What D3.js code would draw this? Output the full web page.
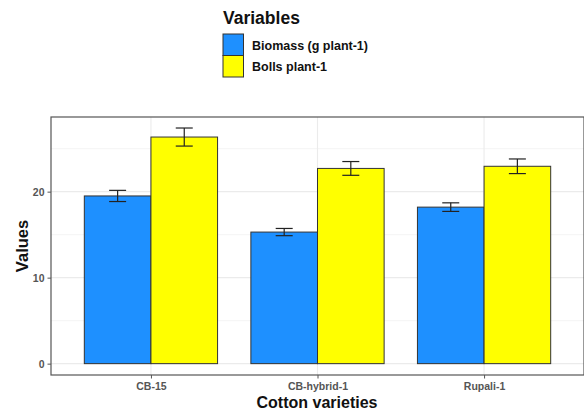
<!DOCTYPE html>
<html>
<head>
<meta charset="utf-8">
<script src="https://cdn.jsdelivr.net/npm/d3@7"></script>
<style>
  body { margin: 0; background: #fff; }
  text { font-family: "Liberation Sans", Arial, sans-serif; }
</style>
</head>
<body>
<svg id="chart"></svg>
<script>
var varieties = ["CB-15", "CB-hybrid-1", "Rupali-1"];
var seriesNames = ["Biomass (g plant-1)", "Bolls plant-1"];
var seriesColors = ["#1E90FF", "#FFFF00"];
var biomass = [19.5, 15.3, 18.2];
var biomassErr = [0.65, 0.42, 0.5];
var bolls = [26.35, 22.7, 22.95];
var bollsErr = [1.05, 0.8, 0.85];
var yTicks = [0, 10, 20];
var yMinor = [5, 15, 25];

var width = 584, height = 412;
var pLeft = 51, pRight = 584, pTop = 117, pBottom = 375;

var svg = d3.select("#chart").attr("width", width).attr("height", height);

var data = [];
varieties.forEach(function(v, i) {
  data.push({variety: v, key: seriesNames[0], value: biomass[i], err: biomassErr[i], color: seriesColors[0]});
  data.push({variety: v, key: seriesNames[1], value: bolls[i], err: bollsErr[i], color: seriesColors[1]});
});

// ggplot style expansion: 0.6 of a category on each side
var step = (pRight - pLeft) / (varieties.length - 1 + 1.2);
var x = d3.scalePoint().domain(varieties)
  .range([pLeft + 0.6 * step, pRight - 0.6 * step]);
var bandW = step * 0.8;
var xs = d3.scaleBand().domain(seriesNames).range([-bandW / 2, bandW / 2]);

var y = d3.scaleLinear().domain([-1.32, 28.68]).range([pBottom, pTop]);

// panel background + grid
svg.append("rect").attr("x", pLeft).attr("y", pTop)
  .attr("width", pRight - pLeft).attr("height", pBottom - pTop).attr("fill", "#fff");

svg.selectAll(".minor").data(yMinor).enter().append("line")
  .attr("x1", pLeft).attr("x2", pRight)
  .attr("y1", function(d) { return y(d); }).attr("y2", function(d) { return y(d); })
  .attr("stroke", "#f2f2f2").attr("stroke-width", 0.8);

svg.selectAll(".major").data(yTicks).enter().append("line")
  .attr("x1", pLeft).attr("x2", pRight)
  .attr("y1", function(d) { return y(d); }).attr("y2", function(d) { return y(d); })
  .attr("stroke", "#ebebeb").attr("stroke-width", 1.1);

svg.selectAll(".vgrid").data(varieties).enter().append("line")
  .attr("x1", function(d) { return x(d); }).attr("x2", function(d) { return x(d); })
  .attr("y1", pTop).attr("y2", pBottom)
  .attr("stroke", "#ebebeb").attr("stroke-width", 1.1);

// bars
svg.selectAll(".bar").data(data).enter().append("rect")
  .attr("x", function(d) { return x(d.variety) + xs(d.key); })
  .attr("y", function(d) { return y(d.value); })
  .attr("width", xs.bandwidth())
  .attr("height", function(d) { return y(0) - y(d.value); })
  .attr("fill", function(d) { return d.color; })
  .attr("stroke", "#333").attr("stroke-width", 1);

// error bars
var cap = 8.5;
function cx(d) { return x(d.variety) + xs(d.key) + xs.bandwidth() / 2; }
var eb = svg.selectAll(".err").data(data).enter().append("g")
  .attr("stroke", "#222").attr("stroke-width", 1.2);
eb.append("line")
  .attr("x1", cx).attr("x2", cx)
  .attr("y1", function(d) { return y(d.value + d.err); })
  .attr("y2", function(d) { return y(d.value - d.err); });
eb.append("line")
  .attr("x1", function(d) { return cx(d) - cap; })
  .attr("x2", function(d) { return cx(d) + cap; })
  .attr("y1", function(d) { return y(d.value + d.err); })
  .attr("y2", function(d) { return y(d.value + d.err); });
eb.append("line")
  .attr("x1", function(d) { return cx(d) - cap; })
  .attr("x2", function(d) { return cx(d) + cap; })
  .attr("y1", function(d) { return y(d.value - d.err); })
  .attr("y2", function(d) { return y(d.value - d.err); });

// panel border
svg.append("rect").attr("x", pLeft).attr("y", pTop)
  .attr("width", pRight - pLeft).attr("height", pBottom - pTop)
  .attr("fill", "none").attr("stroke", "#555").attr("stroke-width", 1.2);

// axes
var yAxis = d3.axisLeft(y).tickValues(yTicks).tickSize(3.5).tickPadding(3);
var gy = svg.append("g").attr("transform", "translate(" + pLeft + ",0)").call(yAxis);
gy.select(".domain").remove();
gy.selectAll("line").attr("stroke", "#555");
gy.selectAll("text").attr("fill", "#555").style("font-size", "10.5px").style("font-weight", "bold");

var xAxis = d3.axisBottom(x).tickSize(3.5).tickPadding(4.5);
var gx = svg.append("g").attr("transform", "translate(0," + pBottom + ")").call(xAxis);
gx.select(".domain").remove();
gx.selectAll("line").attr("stroke", "#555");
gx.selectAll("text").attr("fill", "#555").style("font-size", "10.5px").style("font-weight", "bold");

// axis titles
svg.append("text").attr("x", (pLeft + pRight) / 2 - 0.5).attr("y", 408)
  .attr("text-anchor", "middle").style("font-size", "16px").style("font-weight", "bold")
  .attr("fill", "#111").text("Cotton varieties");
svg.append("text").attr("transform", "translate(28," + (pTop + pBottom) / 2 + ") rotate(-90)")
  .attr("text-anchor", "middle").style("font-size", "16.5px").style("font-weight", "bold")
  .attr("fill", "#111").text("Values");

// legend
var lg = svg.append("g").attr("transform", "translate(223,0)");
lg.append("text").attr("x", 0).attr("y", 24).style("font-size", "17.5px").style("font-weight", "bold")
  .attr("fill", "#111").text("Variables");
var keys = lg.selectAll(".key").data(seriesNames).enter().append("g")
  .attr("transform", function(d, i) { return "translate(0," + (34 + i * 21.5) + ")"; });
keys.append("rect").attr("width", 20.5).attr("height", 21.5)
  .attr("fill", function(d, i) { return seriesColors[i]; })
  .attr("stroke", "#333").attr("stroke-width", 1);
keys.append("text").attr("x", 29).attr("y", 15.5).style("font-size", "12.5px").style("font-weight", "bold")
  .attr("fill", "#111").text(function(d) { return d; });
</script>
</body>
</html>
